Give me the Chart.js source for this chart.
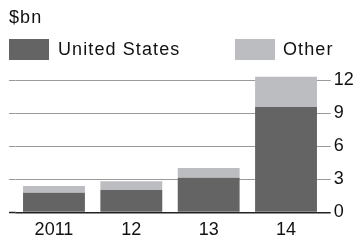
<!DOCTYPE html>
<html>
<head>
<meta charset="utf-8">
<script src="https://cdn.jsdelivr.net/npm/chart.js@4"></script>
<style>
  html, body { margin:0; padding:0; background:#fff; }
  #wrap { position:relative; width:360px; height:241px; overflow:hidden; font-family:"Liberation Sans", Arial, sans-serif; color:#111; }
  canvas { position:absolute; left:0; top:0; }
  .t { position:absolute; font-size:18px; line-height:20px; letter-spacing:1.1px; white-space:nowrap; }
  .box { position:absolute; width:40px; height:21px; }
</style>
</head>
<body>
<div id="wrap">
  <canvas id="c" width="360" height="241"></canvas>
  <div class="t" style="left:9px; top:7px;">$bn</div>
  <div class="box" style="left:9px; top:39px; background:#646464;"></div>
  <div class="t" style="left:58px; top:39px;">United States</div>
  <div class="box" style="left:235px; top:39px; background:#bcbdc0;"></div>
  <div class="t" style="left:283px; top:39px;">Other</div>
</div>
<script>
const categories = ["2011", "12", "13", "14"];
const unitedStates = [1.8, 2.05, 3.15, 9.6];
const other = [0.6, 0.8, 0.9, 2.75];
const yTicks = [0, 3, 6, 9, 12];

const gridColor = v => v === 0 ? '#222' : '#9a9a9a';
const gridWidth = v => v === 0 ? 1.5 : 1;

const leftExtend = {
  id: 'leftExtend',
  beforeDatasetsDraw(chart) {
    const ctx = chart.ctx, y = chart.scales.y, area = chart.chartArea;
    ctx.save();
    yTicks.forEach(v => {
      const py = y.getPixelForValue(v);
      ctx.beginPath();
      ctx.strokeStyle = gridColor(v);
      ctx.lineWidth = gridWidth(v);
      ctx.moveTo(9, py);
      ctx.lineTo(area.left, py);
      ctx.stroke();
    });
    ctx.restore();
  }
};

new Chart(document.getElementById('c'), {
  type: 'bar',
  data: {
    labels: categories,
    datasets: [
      { label: 'United States', data: unitedStates, backgroundColor: '#646464' },
      { label: 'Other', data: other, backgroundColor: '#bcbdc0' }
    ]
  },
  options: {
    responsive: false,
    animation: false,
    devicePixelRatio: 1,
    layout: { padding: { left: 15.3, top: 75, right: 0, bottom: 0 } },
    plugins: { legend: { display: false }, tooltip: { enabled: false } },
    datasets: { bar: { categoryPercentage: 1, barPercentage: 0.8 } },
    scales: {
      x: {
        stacked: true,
        grid: { display: false, drawTicks: false },
        border: { display: false },
        ticks: { font: { family: 'Liberation Sans', size: 18 }, color: '#111', padding: 7 },
        afterFit(s) { s.height = 28.5; }
      },
      y: {
        stacked: true,
        position: 'right',
        min: 0,
        max: 12.5,
        afterBuildTicks(s) { s.ticks = yTicks.map(v => ({ value: v })); },
        grid: {
          color: c => gridColor(c.tick ? c.tick.value : 1),
          lineWidth: c => gridWidth(c.tick ? c.tick.value : 1),
          drawTicks: true,
          tickLength: 6
        },
        border: { display: false },
        ticks: { font: { family: 'Liberation Sans', size: 18 }, color: '#111', padding: 3 },
        afterFit(s) { s.width = 35.3; }
      }
    }
  },
  plugins: [leftExtend]
});
</script>
</body>
</html>
